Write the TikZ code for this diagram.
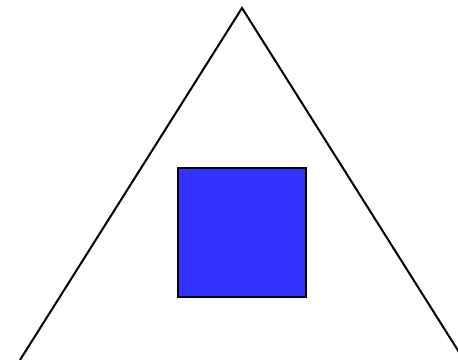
\documentclass[tikz,border=0pt]{standalone}
\usepackage{xcolor}
\usepackage{tikz}
\definecolor{squareblue}{RGB}{51,51,255}
\tikzset{
  outline/.style = {draw=black, line width=1.5pt, line join=miter},
  bluesq/.style  = {draw=black, line width=1.5pt, fill=squareblue},
}

\begin{document}
\begin{tikzpicture}[x=0.75pt, y=-0.75pt]
  \useasboundingbox (0,0) rectangle (458,360);
  \clip (0,0) rectangle (458,360);
  % triangle, its base runs off the page
  \coordinate (apex) at (242,8);
  \coordinate (left) at (20,360);
  \coordinate (right) at (464,360);
  \draw[outline] (left) -- (apex) -- (right);
  % the square inside
  \draw[bluesq] (178,168) rectangle (306,297);
\end{tikzpicture}
\end{document}
